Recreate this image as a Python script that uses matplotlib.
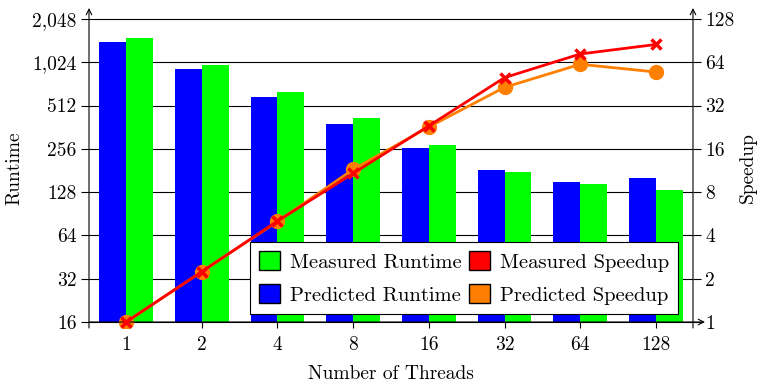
import matplotlib
matplotlib.use("Agg")
import matplotlib.pyplot as plt
import numpy as np
from matplotlib.patches import Patch

plt.rcParams['font.family'] = ['cmr10', 'DejaVu Serif']
plt.rcParams['axes.formatter.use_mathtext'] = True

threads = ['1', '2', '4', '8', '16', '32', '64', '128']
predicted_runtime = [1410, 915, 584, 379, 259, 182, 150, 160]
measured_runtime = [1510, 980, 635, 417, 271, 177, 146, 133]
measured_speedup = [1.0, 2.24, 5.03, 10.8, 23.1, 50, 73, 85]
predicted_speedup = [1.0, 2.24, 5.0, 11.5, 22.7, 42.8, 61.9, 54.7]

left_ticks = [16, 32, 64, 128, 256, 512, 1024, 2048]
left_labels = ['16', '32', '64', '128', '256', '512', '1,024', '2,048']
right_ticks = [1, 2, 4, 8, 16, 32, 64, 128]
right_labels = ['1', '2', '4', '8', '16', '32', '64', '128']

fs = 14
fig = plt.figure(figsize=(7.58, 3.86), dpi=100)
ax = fig.add_axes([89/758, 1-328/386, 604/758, 320/386])

x = np.arange(len(threads))
w = 0.355
base = 16
ax.bar(x - w/2, np.array(predicted_runtime) - base, w, bottom=base, color='#0000ff', zorder=2)
ax.bar(x + w/2, np.array(measured_runtime) - base, w, bottom=base, color='#00ff00', zorder=2)

lo, hi = 4 - 6/43.3, 4 + 314/43.3
ax.set_yscale('log', base=2)
ax.set_ylim(2**lo, 2**hi)
ax.set_xlim(-0.49, 7.49)
for t in left_ticks:
    ax.axhline(t, color='black', lw=0.8, zorder=1)

ax.set_yticks(left_ticks)
ax.set_yticklabels(left_labels)
ax.yaxis.set_minor_locator(matplotlib.ticker.NullLocator())
ax.set_xticks(x)
ax.set_xticklabels(threads)
ax.tick_params(axis='x', direction='in', length=6, width=0.8, labelsize=fs, pad=6)
ax.tick_params(axis='y', direction='out', length=6, width=0.8, labelsize=fs, pad=3)
for s in ax.spines.values():
    s.set_visible(False)

ax2 = ax.twinx()
ax2.set_yscale('log', base=2)
ax2.set_ylim(2**(lo-4), 2**(hi-4))
ax2.plot(x, predicted_speedup, color='#ff8000', lw=2, marker='o', ms=10, zorder=3)
ax2.plot(x, measured_speedup, color='#ff0000', lw=2, marker='x', ms=7, mew=2.5, zorder=4)
ax2.set_yticks(right_ticks)
ax2.set_yticklabels(right_labels)
ax2.yaxis.set_minor_locator(matplotlib.ticker.NullLocator())
ax2.tick_params(axis='y', direction='out', length=6, width=0.8, labelsize=fs, pad=3)
for s in ax2.spines.values():
    s.set_visible(False)

# axis lines with arrows
y16 = (4 - lo) / (hi - lo)
arr = dict(arrowstyle='->', color='black', lw=0.8, shrinkA=0, shrinkB=0)
ax2.annotate('', xy=(0, 1.0), xytext=(0, 0), xycoords='axes fraction', arrowprops=arr)
ax2.annotate('', xy=(1, 1.0), xytext=(1, 0), xycoords='axes fraction', arrowprops=arr)
ax2.annotate('', xy=(1 + 12/604, y16), xytext=(0, y16), xycoords='axes fraction', arrowprops=arr)

ax.set_ylabel('Runtime', fontsize=fs, labelpad=6)
ax2.set_ylabel('Speedup', fontsize=fs, labelpad=3)
ax.set_xlabel('Number of Threads', fontsize=fs, labelpad=8)

handles = [Patch(facecolor='#00ff00', edgecolor='black', label='Measured Runtime'),
           Patch(facecolor='#0000ff', edgecolor='black', label='Predicted Runtime'),
           Patch(facecolor='#ff0000', edgecolor='black', label='Measured Speedup'),
           Patch(facecolor='#ff8000', edgecolor='black', label='Predicted Speedup')]
leg = ax2.legend(handles=handles, ncol=2, loc='lower right', bbox_to_anchor=(0.975, 0.044),
                 borderaxespad=0, prop={'size': 14.8}, fancybox=False, framealpha=1,
                 edgecolor='black', handlelength=1.05, handleheight=1.05,
                 handletextpad=0.45, columnspacing=0.35, borderpad=0.45, labelspacing=0.6)
leg.get_frame().set_linewidth(0.8)
leg.set_zorder(10)

fig.savefig('out.png', dpi=100)
